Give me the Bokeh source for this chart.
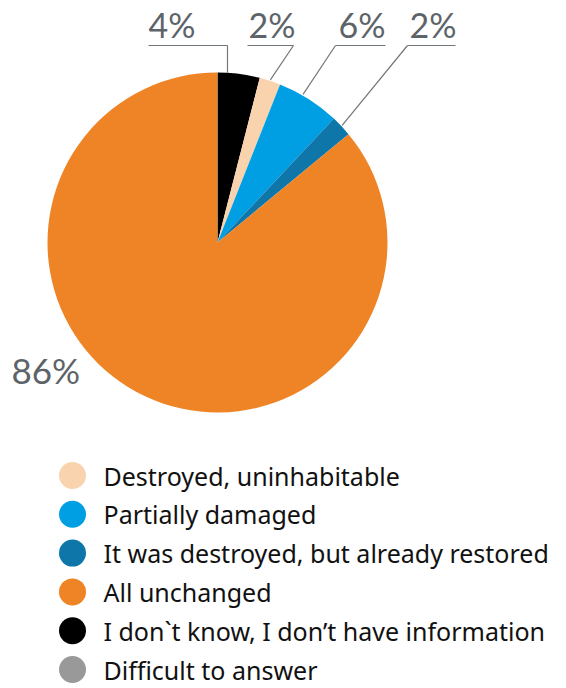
import math
from bokeh.plotting import figure
from bokeh.models import Range1d
from bokeh.core.properties import value
from bokeh.embed import file_html
from bokeh.resources import INLINE

# ---- data ----
categories = [
    "Destroyed, uninhabitable",
    "Partially damaged",
    "It was destroyed, but already restored",
    "All unchanged",
    "I don`t know, I don’t have information",
    "Difficult to answer",
]
percent = [2, 6, 2, 86, 4, 0]
colors = ["#f9d3ae", "#009fe3", "#0e76a8", "#ef8426", "#000000", "#999999"]
pie_order = [4, 5, 0, 1, 2, 3]  # clockwise from 12 o'clock

# ---- layout (page pixels) ----
W, H = 566, 688
def X(px):
    return px
def Y(py):
    return H - py

CX, CY, R = 217, 242, 170
LABEL_GRAY = "#5d6469"
LINE_GRAY = "#70777c"

p = figure(width=W, height=H, output_backend="svg", toolbar_location=None,
           x_range=Range1d(0, W), y_range=Range1d(0, H),
           x_axis_location=None, y_axis_location=None, min_border=0)
p.outline_line_color = None
p.xgrid.visible = False
p.ygrid.visible = False
p.background_fill_color = "white"

# pie wedges
angles = {}
cum = 0.0
for i in pie_order:
    v = percent[i]
    a0 = math.pi / 2 - 2 * math.pi * cum / 100
    a1 = math.pi / 2 - 2 * math.pi * (cum + v) / 100
    angles[i] = (a0, a1)
    cum += v
    if v <= 0:
        continue
    p.wedge(x=X(CX), y=Y(CY), radius=R, start_angle=a0, end_angle=a1,
            direction="clock", fill_color=colors[i], line_color=None)

# callout labels for small slices: (index, text_left_px, line_x0, line_x1, joint_x, frac within slice)
callouts = [
    (4, 148, 148, 227, 227, None),
    (0, 248, 247, 293, 293, 0.5),
    (1, 338, 335, 385, 335, 0.39),
    (2, 409, 407, 455, 407, 0.5),
]
LINE_Y = 45
for idx, tx, lx0, lx1, jx, frac in callouts:
    a0, a1 = angles[idx]
    if frac is None:
        ex = jx
        ey = CY - math.sqrt(R * R - (jx - CX) ** 2)
    else:
        a = a0 + (a1 - a0) * frac
        ex = CX + (R + 1) * math.cos(a)
        ey = CY - (R + 1) * math.sin(a)
    p.line(x=[X(lx0), X(lx1)], y=[Y(LINE_Y), Y(LINE_Y)], line_color=LINE_GRAY, line_width=1.2)
    p.line(x=[X(jx), X(ex)], y=[Y(LINE_Y), Y(ey)], line_color=LINE_GRAY, line_width=1.2)
    p.text(x=[X(tx)], y=[Y(24)], text=[f"{percent[idx]}%"], text_font=value("Lato"),
           text_font_size="34px", text_color=LABEL_GRAY, text_baseline="middle",
           text_align="left")

# big slice label
p.text(x=[X(11)], y=[Y(369)], text=[f"{percent[3]}%"], text_font=value("Lato"),
       text_font_size="35px", text_color=LABEL_GRAY, text_baseline="middle",
       text_align="left")

# legend
ly = [475 + 38.8 * k for k in range(len(categories))]
p.scatter(x=[X(72)] * len(categories), y=[Y(v) for v in ly], size=27,
          marker="circle", fill_color=colors, line_color=None)
p.text(x=[X(103)] * len(categories), y=[Y(v) for v in ly], text=categories,
       text_font=value("Noto Sans"), text_font_size="25px", text_color="#111111",
       text_baseline="middle", text_align="left")

open("out.html", "w").write(file_html(p, INLINE))
